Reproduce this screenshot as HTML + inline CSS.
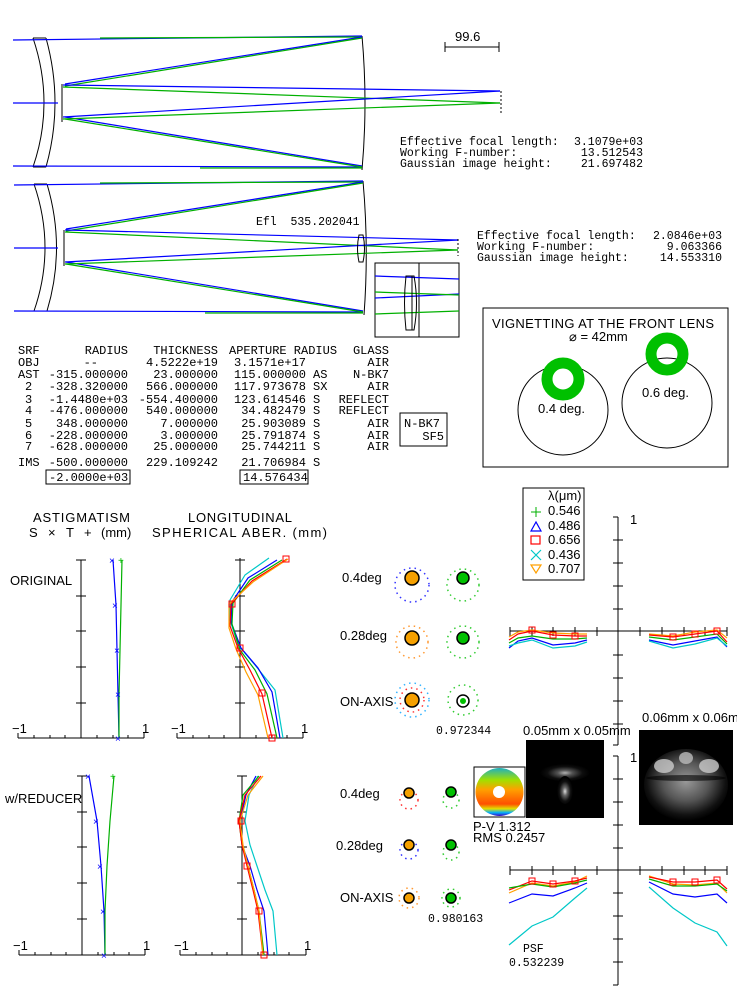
<!DOCTYPE html>
<html><head><meta charset="utf-8"><style>
html,body{margin:0;padding:0;background:#fff;}
svg{display:block;}
.m{font-family:"Liberation Mono",monospace;font-size:11.5px;fill:#000;}
.t{font-family:"Liberation Mono",monospace;font-size:12px;fill:#000;}
.s{font-family:"Liberation Sans",sans-serif;font-size:13px;fill:#000;}
.k{stroke:#000;fill:none;stroke-width:1}
.b{stroke:#0000ff;fill:none;stroke-width:1.2}
.g{stroke:#00b000;fill:none;stroke-width:1.2}
.r{stroke:#ff0000;fill:none;stroke-width:1.2}
.c{stroke:#00c8c8;fill:none;stroke-width:1.2}
.o{stroke:#ffa000;fill:none;stroke-width:1.2}
</style></head><body>
<svg width="737" height="994" viewBox="0 0 737 994" xmlns="http://www.w3.org/2000/svg">
<!-- ===== Layout 1 ===== -->
<g>
<path class="k" d="M33 38 Q55 103 33 167 M46 38 Q64 103 46 167 M33 38 H46 M33 167 H46 M62 84 V122"/>
<path class="k" d="M362 36 Q368 103 362 170"/>
<line class="b" x1="13" y1="40" x2="362" y2="36"/>
<line class="g" x1="100" y1="38" x2="362" y2="37"/>
<line class="b" x1="13" y1="166" x2="362" y2="167"/>
<line class="g" x1="200" y1="168" x2="362" y2="168"/>
<line class="b" x1="13" y1="103" x2="58" y2="103"/>
<line class="b" x1="362" y1="37" x2="65" y2="84"/>
<line class="g" x1="362" y1="38" x2="65" y2="86"/>
<line class="b" x1="362" y1="166" x2="65" y2="117"/>
<line class="g" x1="362" y1="167" x2="65" y2="119"/>
<line class="b" x1="63" y1="85" x2="500" y2="91"/>
<line class="g" x1="63" y1="87" x2="500" y2="103"/>
<line class="b" x1="63" y1="117" x2="500" y2="91"/>
<line class="g" x1="63" y1="119" x2="500" y2="103"/>
<line class="k" x1="501" y1="91" x2="501" y2="115" stroke-dasharray="2,2"/>
<text class="s" x="455" y="41" font-size="14">99.6</text>
<path class="k" d="M445 42 V52 M445 47 H499 M499 42 V52"/>
<text class="m" x="400" y="145">Effective focal length:</text><text class="m" x="643" y="145" text-anchor="end">3.1079e+03</text>
<text class="m" x="400" y="156">Working F-number:</text><text class="m" x="643" y="156" text-anchor="end">13.512543</text>
<text class="m" x="400" y="167">Gaussian image height:</text><text class="m" x="643" y="167" text-anchor="end">21.697482</text>
</g>
<!-- ===== Layout 2 ===== -->
<g>
<path class="k" d="M34 184 Q56 248 34 311 M47 184 Q66 248 47 311 M34 184 H47 M34 311 H47 M64 230 V266"/>
<path class="k" d="M363 181 Q369 248 364 315"/>
<line class="b" x1="14" y1="185" x2="363" y2="181"/>
<line class="g" x1="100" y1="183" x2="363" y2="182"/>
<line class="b" x1="14" y1="311" x2="363" y2="312"/>
<line class="g" x1="205" y1="313" x2="363" y2="313"/>
<line class="b" x1="14" y1="248" x2="58" y2="248"/>
<line class="b" x1="363" y1="182" x2="66" y2="229"/>
<line class="g" x1="363" y1="183" x2="66" y2="231"/>
<line class="b" x1="363" y1="311" x2="66" y2="262"/>
<line class="g" x1="363" y1="312" x2="66" y2="264"/>
<line class="b" x1="65" y1="230" x2="458" y2="240"/>
<line class="g" x1="65" y1="232" x2="458" y2="250"/>
<line class="b" x1="65" y1="262" x2="458" y2="240"/>
<line class="g" x1="65" y1="264" x2="458" y2="250"/>
<path class="k" d="M359 235 Q356 248 359 262 H363 Q366 248 363 235 Z"/>
<line class="k" x1="458" y1="239" x2="458" y2="256" stroke-dasharray="2,2"/>
<text class="m" x="256" y="225" xml:space="preserve">Efl  535.202041</text>
<rect class="k" x="375" y="263" width="84" height="74"/>
<line class="k" x1="419" y1="263" x2="419" y2="337"/>
<line class="b" x1="375" y1="276" x2="459" y2="279"/>
<line class="b" x1="375" y1="298" x2="459" y2="294"/>
<line class="g" x1="375" y1="292" x2="459" y2="295"/>
<line class="g" x1="375" y1="314" x2="459" y2="311"/>
<path class="k" d="M406 276 Q403 303 406 330 H414 Q419 303 414 276 Z M412 276 V330"/>
<text class="m" x="477" y="239">Effective focal length:</text><text class="m" x="722" y="239" text-anchor="end">2.0846e+03</text>
<text class="m" x="477" y="250">Working F-number:</text><text class="m" x="722" y="250" text-anchor="end">9.063366</text>
<text class="m" x="477" y="261">Gaussian image height:</text><text class="m" x="722" y="261" text-anchor="end">14.553310</text>
</g>
<!-- ===== Vignetting ===== -->
<g>
<rect class="k" x="483" y="308" width="245" height="159"/>
<text class="s" x="492" y="328" textLength="222" font-size="12.5">VIGNETTING AT THE FRONT LENS</text>
<text class="s" x="569" y="341" font-size="12.5">⌀ = 42mm</text>
<circle class="k" cx="563" cy="410" r="45"/>
<circle class="k" cx="667" cy="403" r="45"/>
<circle cx="563" cy="379" r="16" fill="none" stroke="#00c000" stroke-width="11"/>
<circle cx="667" cy="354" r="16" fill="none" stroke="#00c000" stroke-width="11"/>
<text class="s" x="538" y="413" font-size="12.5">0.4 deg.</text>
<text class="s" x="642" y="397" font-size="12.5">0.6 deg.</text>
</g>
<!-- ===== Table ===== -->
<g class="t">
<text x="18" y="354">SRF</text><text x="128" y="354" text-anchor="end">RADIUS</text><text x="218" y="354" text-anchor="end">THICKNESS</text><text x="229" y="354">APERTURE RADIUS</text><text x="389" y="354" text-anchor="end">GLASS</text>
<text x="18" y="366">OBJ</text><text x="98" y="366" text-anchor="end">--</text><text x="218" y="366" text-anchor="end">4.5222e+19</text><text x="306" y="366" text-anchor="end">3.1571e+17</text><text x="389" y="366" text-anchor="end">AIR</text>
<text x="18" y="378">AST</text><text x="128" y="378" text-anchor="end">-315.000000</text><text x="218" y="378" text-anchor="end">23.000000</text><text x="306" y="378" text-anchor="end">115.000000</text><text x="313" y="378">AS</text><text x="389" y="378" text-anchor="end">N-BK7</text>
<text x="25" y="390">2</text><text x="128" y="390" text-anchor="end">-328.320000</text><text x="218" y="390" text-anchor="end">566.000000</text><text x="306" y="390" text-anchor="end">117.973678</text><text x="313" y="390">SX</text><text x="389" y="390" text-anchor="end">AIR</text>
<text x="25" y="403">3</text><text x="128" y="403" text-anchor="end">-1.4480e+03</text><text x="218" y="403" text-anchor="end">-554.400000</text><text x="306" y="403" text-anchor="end">123.614546</text><text x="313" y="403">S</text><text x="389" y="403" text-anchor="end">REFLECT</text>
<text x="25" y="414">4</text><text x="128" y="414" text-anchor="end">-476.000000</text><text x="218" y="414" text-anchor="end">540.000000</text><text x="306" y="414" text-anchor="end">34.482479</text><text x="313" y="414">S</text><text x="389" y="414" text-anchor="end">REFLECT</text>
<text x="25" y="427">5</text><text x="128" y="427" text-anchor="end">348.000000</text><text x="218" y="427" text-anchor="end">7.000000</text><text x="306" y="427" text-anchor="end">25.903089</text><text x="313" y="427">S</text><text x="389" y="427" text-anchor="end">AIR</text>
<text x="25" y="439">6</text><text x="128" y="439" text-anchor="end">-228.000000</text><text x="218" y="439" text-anchor="end">3.000000</text><text x="306" y="439" text-anchor="end">25.791874</text><text x="313" y="439">S</text><text x="389" y="439" text-anchor="end">AIR</text>
<text x="25" y="450">7</text><text x="128" y="450" text-anchor="end">-628.000000</text><text x="218" y="450" text-anchor="end">25.000000</text><text x="306" y="450" text-anchor="end">25.744211</text><text x="313" y="450">S</text><text x="389" y="450" text-anchor="end">AIR</text>
<text x="18" y="466">IMS</text><text x="128" y="466" text-anchor="end">-500.000000</text><text x="218" y="466" text-anchor="end">229.109242</text><text x="306" y="466" text-anchor="end">21.706984</text><text x="313" y="466">S</text>
<text x="49" y="481">-2.0000e+03</text><text x="243" y="481">14.576434</text>
<text x="404" y="427">N-BK7</text><text x="444" y="440" text-anchor="end">SF5</text>
</g>
<rect class="k" x="46" y="470" width="84" height="14"/>
<rect class="k" x="240" y="470" width="68" height="14"/>
<rect class="k" x="400" y="413" width="47" height="33"/>
<!-- ===== Aberration headers ===== -->
<text class="s" x="33" y="522" textLength="97">ASTIGMATISM</text>
<text class="s" x="29" y="537" fill="#0000ff">S</text><text class="s" x="48" y="537" fill="#0000ff">×</text><text class="s" x="66" y="537" fill="#00b000">T</text><text class="s" x="84" y="537" fill="#00b000">+</text><text class="s" x="101" y="537">(mm)</text>
<text class="s" x="188" y="522" textLength="104">LONGITUDINAL</text>
<text class="s" x="152" y="537" textLength="175">SPHERICAL ABER. (mm)</text>
<text class="s" x="10" y="585">ORIGINAL</text>
<text class="s" x="5" y="803">w/REDUCER</text>
<!-- Astig 1 -->
<g>
<path class="k" d="M81 560 V738 M18 738 H144 M76 560 H86 M76 596 H86 M76 631 H86 M76 667 H86 M76 703 H86 M18 733 V738 M34 735 V738 M50 735 V738 M65 735 V738 M97 735 V738 M113 735 V738 M128 735 V738 M144 733 V738"/>
<text class="s" x="12" y="733">−1</text><text class="s" x="142" y="733">1</text>
<polyline class="b" points="113,560 116,605 117,650 118,695 119,738"/>
<polyline class="g" points="122,560 121,605 120,650 119,695 119,738"/>
<text x="109" y="564" font-size="10" fill="#00f" font-family="Liberation Sans">×</text>
<text x="112" y="609" font-size="10" fill="#00f" font-family="Liberation Sans">×</text>
<text x="114" y="654" font-size="10" fill="#00f" font-family="Liberation Sans">×</text>
<text x="115" y="698" font-size="10" fill="#00f" font-family="Liberation Sans">×</text>
<text x="115" y="742" font-size="10" fill="#00f" font-family="Liberation Sans">×</text>
<text x="118" y="564" font-size="10" fill="#0b0" font-family="Liberation Sans">+</text>
</g>
<!-- LSA 1 -->
<g>
<path class="k" d="M240 558 V738 M177 738 H303 M235 560 H245 M235 596 H245 M235 631 H245 M235 667 H245 M235 703 H245 M177 733 V738 M193 735 V738 M209 735 V738 M224 735 V738 M256 735 V738 M272 735 V738 M287 735 V738 M303 733 V738"/>
<text class="s" x="171" y="733">−1</text><text class="s" x="301" y="733">1</text>
<polyline class="c" points="269,558 245,575 230,600 230,620 238,645 255,665 275,690 283,738"/>
<polyline class="b" points="277,560 248,578 232,602 231,622 241,648 258,668 272,692 280,738"/>
<polyline class="g" points="282,560 250,580 233,603 232,624 240,650 255,670 267,694 277,738"/>
<polyline class="r" points="287,559 252,581 231,604 230,626 238,648 250,670 262,694 272,738"/>
<polyline class="o" points="288,559 253,582 229,604 229,628 236,649 246,672 258,695 268,738"/>
<rect x="283" y="556" width="6" height="6" fill="none" stroke="#f00"/>
<rect x="229" y="601" width="6" height="6" fill="none" stroke="#f00"/>
<rect x="237" y="645" width="6" height="6" fill="none" stroke="#f00"/>
<rect x="259" y="690" width="6" height="6" fill="none" stroke="#f00"/>
<rect x="269" y="735" width="6" height="6" fill="none" stroke="#f00"/>
</g>
<!-- Astig 2 -->
<g>
<path class="k" d="M82 776 V955 M19 955 H145 M77 776 H87 M77 812 H87 M77 847 H87 M77 883 H87 M77 919 H87 M19 950 V955 M35 952 V955 M51 952 V955 M66 952 V955 M98 952 V955 M114 952 V955 M129 952 V955 M145 950 V955"/>
<text class="s" x="13" y="950">−1</text><text class="s" x="143" y="950">1</text>
<polyline class="b" points="89,776 97,821 101,866 104,911 105,955"/>
<polyline class="g" points="114,776 110,821 107,866 105,911 105,955"/>
<text x="85" y="780" font-size="10" fill="#00f" font-family="Liberation Sans">×</text>
<text x="93" y="825" font-size="10" fill="#00f" font-family="Liberation Sans">×</text>
<text x="97" y="870" font-size="10" fill="#00f" font-family="Liberation Sans">×</text>
<text x="100" y="915" font-size="10" fill="#00f" font-family="Liberation Sans">×</text>
<text x="101" y="959" font-size="10" fill="#00f" font-family="Liberation Sans">×</text>
<text x="110" y="780" font-size="10" fill="#0b0" font-family="Liberation Sans">+</text>
</g>
<!-- LSA 2 -->
<g>
<path class="k" d="M242 776 V955 M180 955 H306 M237 776 H247 M237 812 H247 M237 847 H247 M237 883 H247 M237 919 H247 M180 950 V955 M196 952 V955 M212 952 V955 M227 952 V955 M258 952 V955 M274 952 V955 M289 952 V955 M306 950 V955"/>
<text class="s" x="174" y="950">−1</text><text class="s" x="304" y="950">1</text>
<polyline class="c" points="258,776 249,795 245,821 250,845 257,866 265,890 273,911 277,955"/>
<polyline class="b" points="256,776 246,795 240,821 242,845 250,866 257,890 264,911 268,955"/>
<polyline class="g" points="259,776 243,795 239,821 242,845 248,866 254,890 259,911 264,955"/>
<polyline class="r" points="261,776 245,795 239,821 242,845 247,866 253,890 258,911 263,955"/>
<polyline class="o" points="263,776 248,795 240,821 243,845 248,866 254,890 259,911 263,955"/>
<rect x="238" y="818" width="6" height="6" fill="none" stroke="#f00"/>
<rect x="244" y="863" width="6" height="6" fill="none" stroke="#f00"/>
<rect x="256" y="908" width="6" height="6" fill="none" stroke="#f00"/>
<rect x="261" y="952" width="6" height="6" fill="none" stroke="#f00"/>
</g>
<!-- ===== Spot diagrams ===== -->
<g class="s" font-size="12.5">
<text x="342" y="582" class="s">0.4deg</text>
<text x="340" y="640" class="s">0.28deg</text>
<text x="340" y="706" class="s">ON-AXIS</text>
<text x="340" y="798" class="s">0.4deg</text>
<text x="336" y="850" class="s">0.28deg</text>
<text x="340" y="902" class="s">ON-AXIS</text>
</g>
<g fill="none" stroke-width="1.5" stroke-dasharray="1.5,4" opacity="0.8">
<circle cx="412" cy="585" r="17" stroke="#0000ff"/>
<circle cx="412" cy="642" r="16" stroke="#ff8000"/>
<circle cx="412" cy="700" r="17" stroke="#00a0ff"/>
<circle cx="412" cy="700" r="12" stroke="#ff0000"/>
<circle cx="463" cy="585" r="16" stroke="#00c000"/>
<circle cx="463" cy="642" r="16" stroke="#00c000"/>
<circle cx="463" cy="700" r="15" stroke="#00c000"/>
<circle cx="409" cy="800" r="9" stroke="#ff0000"/>
<circle cx="409" cy="850" r="9" stroke="#0000ff"/>
<circle cx="409" cy="898" r="10" stroke="#ff8000"/>
<circle cx="451" cy="800" r="8" stroke="#00c000"/>
<circle cx="451" cy="852" r="8" stroke="#00c000"/>
<circle cx="451" cy="898" r="9" stroke="#00c000"/>
</g>
<g stroke="#000" stroke-width="1.5">
<circle cx="412" cy="578" r="7" fill="#f5a000"/>
<circle cx="412" cy="638" r="7" fill="#f5a000"/>
<circle cx="412" cy="700" r="7" fill="#f5a000"/>
<circle cx="463" cy="578" r="6" fill="#00c000"/>
<circle cx="463" cy="638" r="6" fill="#00c000"/>
<circle cx="463" cy="701" r="6" fill="#fff"/>
<circle cx="409" cy="793" r="5" fill="#f5a000"/>
<circle cx="409" cy="845" r="5" fill="#f5a000"/>
<circle cx="409" cy="898" r="5" fill="#f5a000"/>
<circle cx="451" cy="792" r="5" fill="#00c000"/>
<circle cx="451" cy="845" r="5" fill="#00c000"/>
<circle cx="451" cy="898" r="5" fill="#00c000"/>
</g>
<circle cx="463" cy="701" r="3" fill="#00c000"/>
<text class="m" x="436" y="734" fill="#334">0.972344</text>
<text class="m" x="428" y="922" fill="#334">0.980163</text>
<!-- ===== Legend ===== -->
<rect class="k" x="523" y="488" width="61" height="92"/>
<text class="s" x="548" y="500" font-size="11">λ(μm)</text>
<g class="s" font-size="11">
<text x="548" y="515">0.546</text><text x="548" y="530">0.486</text><text x="548" y="544">0.656</text><text x="548" y="559">0.436</text><text x="548" y="573">0.707</text>
</g>
<path d="M531 512 H541 M536 507 V517" stroke="#00b000"/>
<path d="M531 531 L536 522 L541 531 Z" class="b" stroke-width="1"/>
<rect x="531" y="536" width="9" height="8" class="r" stroke-width="1"/>
<path d="M531 550 L541 560 M541 550 L531 560" class="c" stroke-width="1"/>
<path d="M531 565 L541 565 L536 573 Z" class="o" stroke-width="1"/>
<!-- ===== Ray fan axes ===== -->
<g class="k">
<path d="M618 517 V745 M613 517 H618 M613 540 H623 M613 563 H623 M613 586 H623 M613 609 H623 M613 655 H623 M613 678 H623 M613 701 H623 M613 724 H623 M613 745 H618"/>
<path d="M510 631 H727 M510 627 V636 M532 627 V636 M553 627 V636 M575 627 V636 M597 627 V636 M640 627 V636 M662 627 V636 M684 627 V636 M705 627 V636 M727 627 V636"/>
<path d="M618 756 V985 M613 756 H618 M613 779 H623 M613 802 H623 M613 825 H623 M613 848 H623 M613 893 H623 M613 916 H623 M613 939 H623 M613 962 H623 M613 985 H618"/>
<path d="M510 870 H727 M510 866 V875 M532 866 V875 M553 866 V875 M575 866 V875 M597 866 V875 M640 866 V875 M662 866 V875 M684 866 V875 M705 866 V875 M727 866 V875"/>
</g>
<text class="s" x="630" y="524" font-size="14">1</text>
<text class="s" x="630" y="762" font-size="14">1</text>
<!-- top fans -->
<polyline class="o" points="509,637 518,632 532,630 553,633 575,634 587,634"/>
<polyline class="r" points="509,640 518,634 532,631 553,635 575,636 587,636"/>
<polyline class="g" points="509,643 518,638 532,636 553,639 575,639 587,638"/>
<polyline class="b" points="509,648 518,641 532,638 553,645 575,643 587,640"/>
<polyline class="c" points="509,646 518,643 532,640 553,648 575,646 587,642"/>
<polyline class="o" points="649,634 673,636 695,632 717,630 727,638"/>
<polyline class="r" points="649,635 673,637 695,634 717,631 727,642"/>
<polyline class="g" points="649,637 673,640 695,637 717,634 727,644"/>
<polyline class="b" points="649,640 673,645 695,641 717,637 727,647"/>
<polyline class="c" points="649,641 673,648 695,644 717,638 727,646"/>
<!-- bottom fans -->
<polyline class="o" points="509,893 532,883 553,886 575,882 587,876"/>
<polyline class="r" points="509,890 532,881 553,884 575,881 587,878"/>
<polyline class="g" points="509,888 532,884 553,887 575,883 587,880"/>
<polyline class="b" points="509,903 532,894 553,896 575,888 587,883"/>
<polyline class="c" points="509,945 532,926 553,917 575,898 587,888"/>
<polyline class="o" points="649,876 673,884 695,885 717,883 727,893"/>
<polyline class="r" points="649,877 673,882 695,882 717,880 727,889"/>
<polyline class="g" points="649,879 673,886 695,886 717,884 727,891"/>
<polyline class="b" points="649,882 673,894 695,897 717,894 727,903"/>
<polyline class="c" points="649,887 673,908 695,923 717,932 727,946"/>
<g fill="none" stroke="#f00">
<rect x="529" y="627" width="6" height="6"/><rect x="550" y="632" width="6" height="6"/><rect x="572" y="633" width="6" height="6"/><rect x="670" y="634" width="6" height="6"/><rect x="692" y="631" width="6" height="6"/><rect x="714" y="628" width="6" height="6"/>
<rect x="529" y="878" width="6" height="6"/><rect x="550" y="881" width="6" height="6"/><rect x="572" y="878" width="6" height="6"/><rect x="670" y="879" width="6" height="6"/><rect x="692" y="879" width="6" height="6"/><rect x="714" y="877" width="6" height="6"/>
</g>
<!-- wavefront & PSFs -->
<defs>
<linearGradient id="wf" x1="0" y1="0" x2="0" y2="1">
<stop offset="0" stop-color="#20b0c0"/><stop offset="0.25" stop-color="#a0e000"/><stop offset="0.45" stop-color="#ffa000"/><stop offset="0.75" stop-color="#ff5000"/><stop offset="0.85" stop-color="#e0e000"/><stop offset="0.93" stop-color="#00b0ff"/><stop offset="1" stop-color="#4000c0"/>
</linearGradient>
<radialGradient id="p1" cx="0.5" cy="0.55" r="0.5"><stop offset="0" stop-color="#ddd"/><stop offset="0.3" stop-color="#666"/><stop offset="0.7" stop-color="#111"/><stop offset="1" stop-color="#000"/></radialGradient>
<radialGradient id="p2" cx="0.5" cy="0.45" r="0.55"><stop offset="0" stop-color="#999"/><stop offset="0.5" stop-color="#555"/><stop offset="0.85" stop-color="#111"/><stop offset="1" stop-color="#000"/></radialGradient>
</defs>
<rect class="k" x="474" y="767" width="51" height="50"/>
<circle cx="499.5" cy="792" r="24" fill="url(#wf)"/>
<circle cx="499" cy="792" r="6" fill="#fff"/>
<text class="s" x="473" y="831" font-size="11">P-V 1.312</text>
<text class="s" x="473" y="842" font-size="11">RMS 0.2457</text>
<text class="s" x="523" y="735" font-size="11">0.05mm x 0.05mm</text>
<rect x="526" y="740" width="78" height="78" fill="#000"/>
<ellipse cx="565" cy="772" rx="25" ry="9" fill="url(#p1)" opacity="0.8"/>
<ellipse cx="565" cy="790" rx="8" ry="14" fill="url(#p1)"/>
<text class="s" x="642" y="722" font-size="11">0.06mm x 0.06mm</text>
<rect x="639" y="730" width="94" height="95" fill="#000"/>
<ellipse cx="686" cy="785" rx="42" ry="36" fill="url(#p2)"/>
<ellipse cx="664" cy="766" rx="10" ry="7" fill="#ccc" opacity="0.8"/>
<ellipse cx="709" cy="766" rx="10" ry="7" fill="#ccc" opacity="0.8"/>
<ellipse cx="686" cy="758" rx="7" ry="6" fill="#bbb" opacity="0.8"/>
<ellipse cx="686" cy="778" rx="40" ry="3" fill="#000" opacity="0.6"/>
<text class="m" x="523" y="952" font-size="12">PSF</text>
<text class="m" x="509" y="966" font-size="12">0.532239</text>
</svg>
</body></html>
